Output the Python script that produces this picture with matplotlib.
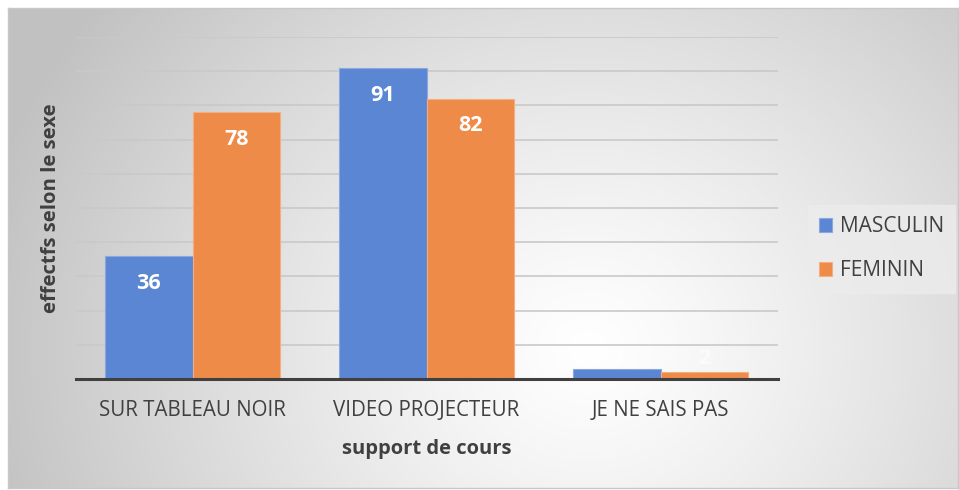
import numpy as np
import matplotlib.pyplot as plt

plt.rcParams['font.family'] = ['Open Sans', 'DejaVu Sans']

categories = ['SUR TABLEAU NOIR', 'VIDEO PROJECTEUR', 'JE NE SAIS PAS']
masculin = [36, 91, 3]
feminin = [78, 82, 2]

W, H = 959, 490
fig = plt.figure(figsize=(W / 100, H / 100), dpi=100)
fig.patch.set_facecolor('white')

# gradient background panel
bg = fig.add_axes([8 / W, 2 / H, 950 / W, 480 / H])
yy, xx = np.mgrid[0:480, 0:950]
r = np.hypot((xx - 580) / 1.0, (yy - 340) / 0.9)
t = np.clip(r / 620, 0, 1) ** 1.2
shade = 1.0 - 0.24 * t
bg.imshow(np.dstack([shade] * 3), aspect='auto', extent=[0, 950, 480, 0])
bg.set_xticks([])
bg.set_yticks([])
for s in bg.spines.values():
    s.set_color('#c8c8c8')
    s.set_linewidth(1)

ax = fig.add_axes([75.5 / W, (H - 379) / H, 702 / W, 342 / H])
ax.patch.set_alpha(0)
x = np.arange(len(categories))
bw = 0.374
b1 = ax.bar(x - bw / 2, masculin, bw, color='#5b86d3', edgecolor='#8aa8e0',
            linewidth=0.8, label='MASCULIN', zorder=3)
b2 = ax.bar(x + bw / 2, feminin, bw, color='#ee8b49', edgecolor='#f5ae80',
            linewidth=0.8, label='FEMININ', zorder=3)

for bars, vals in ((b1, masculin), (b2, feminin)):
    for b, v in zip(bars, vals):
        ax.text(b.get_x() + b.get_width() / 2, max(v, 14) - 8, str(v),
                ha='center', va='center', color='white', fontsize=15.5,
                fontweight='bold', zorder=4, alpha=1 if v > 10 else 0.6)

ax.set_xlim(-0.5, 2.5)
ax.set_ylim(0, 100)
ax.set_yticks(np.arange(0, 101, 10))
ax.yaxis.grid(True, color='#c9c9c9', linewidth=1.2, zorder=0)
ax.tick_params(axis='y', length=0, labelleft=False)
ax.tick_params(axis='x', length=0, pad=15, labelsize=14.8, labelcolor='#404040')
ax.set_xticks(x)
ax.set_xticklabels(categories)
for s in ['top', 'right', 'left']:
    ax.spines[s].set_visible(False)
ax.spines['bottom'].set_color('#404040')
ax.spines['bottom'].set_linewidth(2.2)
ax.spines['bottom'].set_zorder(5)

ax.set_xlabel('support de cours', fontsize=14.5, fontweight='bold',
              color='#404040', labelpad=13)
ax.set_ylabel('effectfs selon le sexe', fontsize=14.6, fontweight='bold',
              color='#404040')
ax.yaxis.set_label_coords(-0.02, 0.5)

leg = fig.legend(handles=[b1, b2], loc='upper left',
                 bbox_to_anchor=(808 / W, (H - 205) / H), frameon=True,
                 fontsize=15, labelcolor='#404040', handlelength=0.62,
                 handleheight=0.62, handletextpad=0.35, labelspacing=1.1,
                 borderpad=0.55, borderaxespad=0, fancybox=False)
leg.get_frame().set_facecolor('#ececec')
leg.get_frame().set_edgecolor('#ececec')
leg.get_frame().set_alpha(0.8)

fig.savefig('out.png', dpi=100)
